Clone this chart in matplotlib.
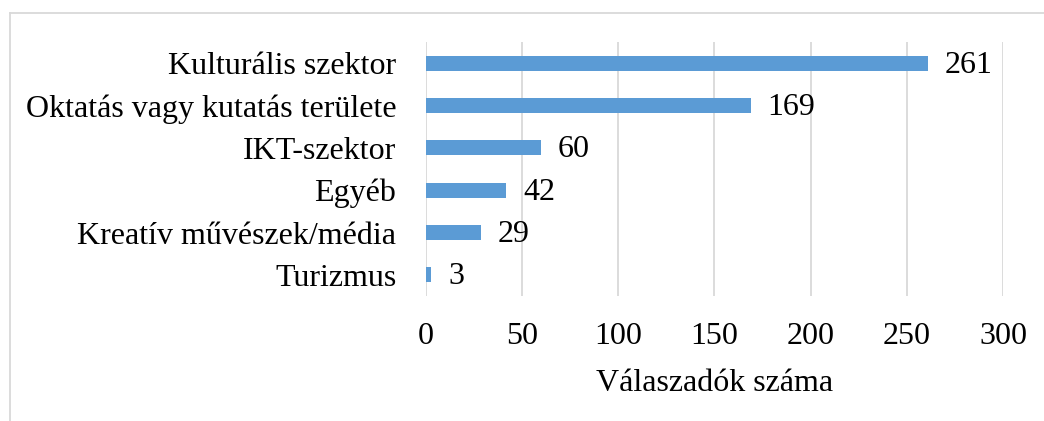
import matplotlib
matplotlib.use("Agg")
import matplotlib.pyplot as plt
from matplotlib.lines import Line2D

categories = ["Kulturális szektor", "Oktatás vagy kutatás területe", "IKT-szektor",
              "Egyéb", "Kreatív művészek/média", "Turizmus"]
values = [261, 169, 60, 42, 29, 3]
xticks = [0, 50, 100, 150, 200, 250, 300]
xlabel = "Válaszadók száma"

plt.rcParams['font.family'] = ['Liberation Serif', 'DejaVu Serif']

W, H = 1044, 421
FS = 23
fig = plt.figure(figsize=(W / 100, H / 100), dpi=100)
left, right, top, bottom = 425.5, 1003, 42, 296
ax = fig.add_axes([left / W, 1 - bottom / H, (right - left) / W, (bottom - top) / H])

ypos = list(range(len(categories)))
ax.barh(ypos, values, height=0.36, color="#5B9BD5", zorder=3)
ax.set_ylim(len(categories) - 0.5, -0.5)
ax.set_xlim(0, 300)
ax.set_xticks(xticks)
ax.set_xticklabels([str(t) for t in xticks], fontsize=FS)
ax.set_yticks(ypos)
ax.set_yticklabels(categories, fontsize=FS)
ax.tick_params(axis='both', length=0)
ax.tick_params(axis='y', pad=21)
ax.tick_params(axis='x', pad=19)
ax.grid(axis='x', color="#D9D9D9", linewidth=1.3, zorder=0)
for s in ax.spines.values():
    s.set_visible(False)
ax.set_xlabel(xlabel, fontsize=FS, labelpad=13)

for y, v in zip(ypos, values):
    ax.annotate(str(v), (v, y), xytext=(12, -1.5), textcoords="offset points",
                va="center", ha="left", fontsize=FS)

# chart border (top and left visible)
fig.add_artist(Line2D([10 / W, 1.0], [1 - 13 / H, 1 - 13 / H], transform=fig.transFigure,
                      color="#D9D9D9", linewidth=1.3))
fig.add_artist(Line2D([10 / W, 10 / W], [0, 1 - 13 / H], transform=fig.transFigure,
                      color="#D9D9D9", linewidth=1.3))

fig.savefig("out.png", dpi=100)
